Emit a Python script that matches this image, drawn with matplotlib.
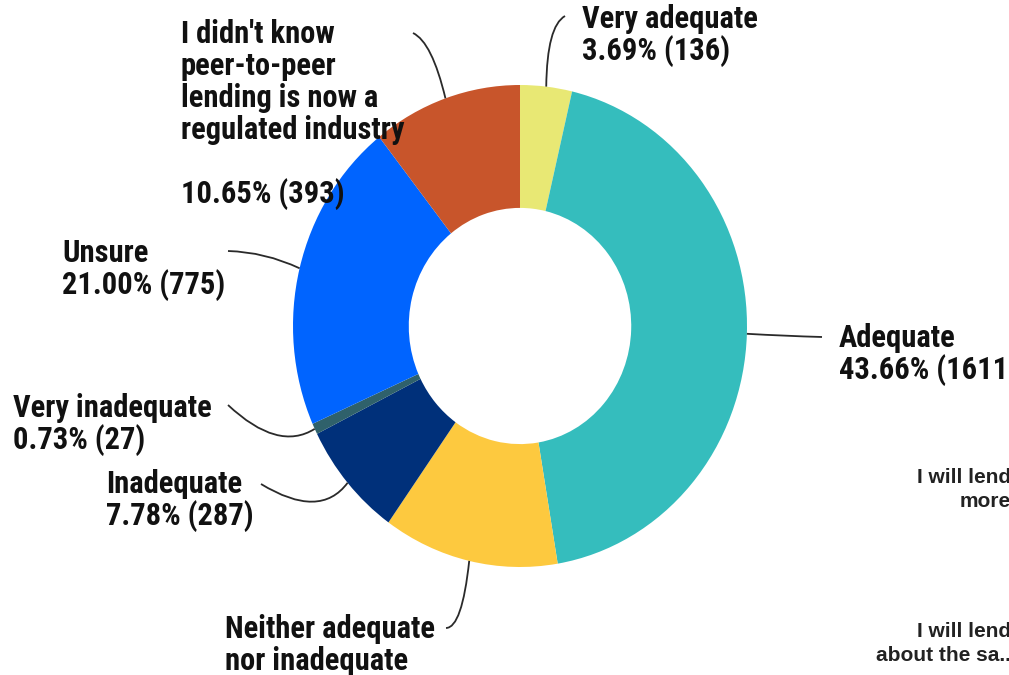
import numpy as np
import matplotlib.pyplot as plt
from matplotlib.path import Path
from matplotlib.patches import PathPatch

# survey answers, clockwise from 12 o'clock
categories = [
    "Very adequate",
    "Adequate",
    "Neither adequate\nnor inadequate",
    "Inadequate",
    "Very inadequate",
    "Unsure",
    "I didn't know\npeer-to-peer\nlending is now a\nregulated industry\n",
]
counts = [136, 1611, 461, 287, 27, 775, 393]
colors = ["#E8E874", "#35BDBD", "#FDC93F", "#00307A", "#2F616B", "#0064FF", "#C8552B"]

# label layout: left x, first baseline, bezier control point, label-side end of leader
label_x = [582, 839, 225, 106, 13, 62, 181]
label_y = [28, 347, 638, 493, 417, 262, 43]
leader_end = [(565, 16), (822, 337), (446, 628), (261, 484), (228, 405), (228, 251), (413, 33)]
leader_ctrl = [(547, 26), (785, 336), (462, 628), (320, 520), (278, 452), (265, 252), (432, 42)]

W, H = 1009, 675
CX, CY, RX, RY = 520, 326, 227, 241
LINE_STEP = 32
FONT = ["Roboto Condensed", "Liberation Sans", "DejaVu Sans"]

fig = plt.figure(figsize=(W / 100, H / 100), dpi=100)
fig.patch.set_facecolor("white")

ax = fig.add_axes([(CX - RX) / W, 1 - (CY + RY) / H, 2 * RX / W, 2 * RY / H])
ax.pie(counts, colors=colors, startangle=90, counterclock=False, radius=1,
       wedgeprops=dict(width=0.51, linewidth=0))
ax.set_aspect("auto")
ax.set_xlim(-1, 1)
ax.set_ylim(-1, 1)
ax.axis("off")

# overlay in pixel coordinates for labels and leader lines
ov = fig.add_axes([0, 0, 1, 1])
ov.set_xlim(0, W)
ov.set_ylim(H, 0)
ov.axis("off")
ov.patch.set_alpha(0)

total = sum(counts)
cum = np.cumsum([0] + counts[:-1])
for i, (name, n) in enumerate(zip(categories, counts)):
    mid = (cum[i] + n / 2) / total * 2 * np.pi
    ex = CX + RX * np.sin(mid)
    ey = CY - RY * np.cos(mid)
    path = Path([leader_end[i], leader_ctrl[i], (ex, ey)],
                [Path.MOVETO, Path.CURVE3, Path.CURVE3])
    ov.add_patch(PathPatch(path, fc="none", ec="#2a2a2a", lw=1.3))

    lines = name.split("\n") + [f"{100 * n / total:.2f}% ({n})"]
    for j, line in enumerate(lines):
        ov.text(label_x[i], label_y[i] + j * LINE_STEP, line, family=FONT,
                fontsize=22, fontweight="bold", color="#111111",
                ha="left", va="baseline")

# legend entries of the neighbouring chart, cut at the right edge
side_labels = ["I will lend\nmore", "I will lend\nabout the sa.."]
side_y = [483, 637]
for text, y in zip(side_labels, side_y):
    for j, line in enumerate(text.split("\n")):
        ov.text(1011, y + j * 24, line, family=["Liberation Sans", "DejaVu Sans"],
                fontsize=15, fontweight="bold", color="#222222",
                ha="right", va="baseline")

fig.savefig("out.png", dpi=100)
